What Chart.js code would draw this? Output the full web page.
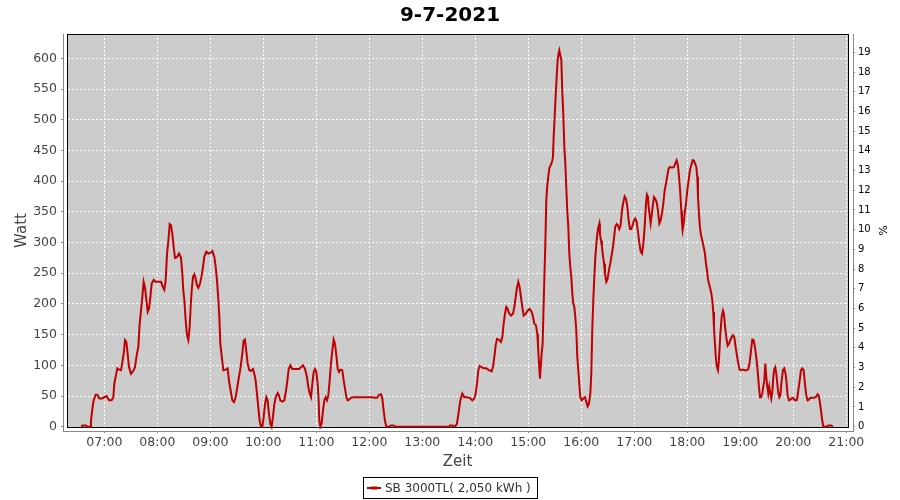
<!DOCTYPE html>
<html><head><meta charset="utf-8">
<script src="https://cdn.jsdelivr.net/npm/chart.js@4.4.1/dist/chart.umd.min.js"></script>
<style>html,body{margin:0;padding:0;background:#fff}#wrap{width:900px;height:500px;position:relative}</style>
</head><body><div id="wrap"><canvas id="c"></canvas></div>
<script>
const chartTitle = '9-7-2021';
const seriesLabel = 'SB 3000TL( 2,050 kWh )';
const xAxisTitle = 'Zeit';
const yAxisTitle = 'Watt';
const y2AxisTitle = '%';
// hour ticks in minutes after midnight
const hourTicks = [420,480,540,600,660,720,780,840,900,960,1020,1080,1140,1200,1260];
const wattTicks = [0,50,100,150,200,250,300,350,400,450,500,550,600];
const percentTicks = [0,1,2,3,4,5,6,7,8,9,10,11,12,13,14,15,16,17,18,19];
// sample times, minutes after midnight
const times = [
393.6,396.2,398.9,401.1,403.8,404.9,406.4,407.9,410.2,412.1,414.3,417.0,420.0,422.6,425.3,428.3,430.2,431.3,432.8,434.7,
437.0,438.9,440.4,441.9,443.4,444.9,446.4,447.9,450.2,452.8,454.7,456.6,458.5,460.0,461.5,463.0,464.5,466.0,467.6,469.1,
470.6,472.1,473.6,475.9,478.1,481.1,484.2,486.4,487.9,489.4,491.0,492.5,494.0,495.5,497.0,498.5,500.0,502.3,504.5,506.8,
508.3,509.4,510.6,512.1,513.6,515.1,516.6,517.7,518.9,520.4,521.9,523.4,524.9,526.4,528.3,530.2,531.7,533.2,535.5,537.7,
540.0,542.3,544.5,546.1,547.6,549.1,550.2,551.3,552.8,554.7,
557.4,559.6,561.1,563.0,564.9,566.8,568.7,570.6,572.4,574.3,576.2,577.7,579.2,580.8,582.3,584.1,586.0,588.3,589.8,591.3,
592.8,594.3,595.8,597.4,598.9,600.4,601.9,603.4,604.9,606.4,607.9,609.4,610.9,612.5,614.0,616.2,617.7,619.2,621.5,623.8,
625.7,627.2,628.7,630.6,632.8,635.1,637.7,640.4,642.6,644.9,647.2,649.4,650.9,652.5,654.0,655.5,657.0,658.5,660.0,661.5,
662.6,663.4,664.5,666.0,667.6,669.1,670.6,672.1,673.6,675.1,676.6,678.1,679.6,681.1,682.7,684.2,685.7,687.2,689.4,691.0,
692.5,694.0,695.5,697.0,699.3,701.9,707.6,715.1,722.7,726.4,728.7,731.0,
733.2,734.7,736.2,737.7,739.2,742.3,744.5,747.5,749.8,810.2,811.3,814.0,817.0,819.2,821.5,823.0,825.3,827.6,830.6,833.6,
836.6,838.9,840.4,841.9,843.4,844.9,847.2,849.4,852.5,855.5,858.5,860.0,861.5,863.0,864.5,866.8,869.1,870.6,872.1,873.6,
875.1,876.6,878.1,880.4,882.7,884.2,885.7,887.2,888.7,890.2,891.7,893.2,894.7,897.0,899.3,901.5,903.8,905.3,906.8,
908.7,910.2,910.9,911.7,912.4,913.2,914.0,915.1,916.2,917.0,918.1,919.2,920.4,921.5,922.6,923.8,925.3,926.8,927.9,928.7,
929.8,930.9,932.1,933.2,934.3,935.1,936.2,937.4,938.5,939.6,940.8,941.9,943.0,944.1,945.3,946.4,947.5,948.7,949.8,950.9,
952.1,953.2,954.3,955.5,956.6,957.7,958.9,960.4,962.3,964.2,965.7,967.2,968.7,970.2,971.3,972.5,973.6,974.7,975.9,977.0,
978.1,979.2,980.4,981.1,982.3,983.4,984.5,985.7,986.8,988.3,989.8,991.3,992.8,994.3,995.9,997.4,998.5,1000.0,1001.5,1003.0,
1004.5,1006.0,1007.6,1009.1,1010.6,1012.1,1013.6,1015.1,1016.6,1018.1,1019.6,1021.1,1022.6,1024.2,1025.7,1027.2,1028.7,1030.2,1031.7,1033.2,
1034.3,1035.5,1036.2,1037.4,1038.5,1039.6,1040.8,1042.3,1043.8,1045.3,1046.8,1048.3,1049.8,1051.3,1052.8,1054.4,1055.9,1057.4,1058.9,1060.4,
1061.9,1063.4,1064.9,1066.4,1067.9,1069.4,1071.0,1072.1,1073.2,1074.0,1074.7,1075.9,1077.0,1078.5,1080.0,1081.5,1083.0,1084.5,1086.1,1087.6,
1088.7,1090.2,1091.3,1092.1,1093.2,1094.3,1095.5,1097.0,1098.5,1100.0,1101.1,1102.3,1103.4,1104.5,1106.0,1107.2,1108.3,1109.4,1110.2,1111.3,
1112.4,1113.6,1114.7,1115.8,1117.4,1118.9,1120.4,1121.5,1122.6,1124.1,1125.7,1127.2,1128.7,1130.2,1131.7,1133.2,1134.7,1136.2,1137.7,1139.2,
1140.8,1143.0,1144.5,1146.0,1147.5,1149.1,1150.6,1152.1,1153.6,1155.1,1156.6,1158.1,1159.6,1161.1,1162.3,1163.4,1164.9,1166.0,1167.2,1168.3,
1169.4,1170.6,1171.7,1172.8,1174.0,1175.1,1176.2,1177.4,1178.5,1179.6,1180.8,1181.9,1183.0,1184.2,1185.3,1186.8,1188.3,1189.8,1191.3,1192.5,
1193.6,1195.1,1196.6,1198.1,1199.6,1201.1,1202.6,1204.2,1205.7,1207.2,1208.7,1210.2,1211.7,1213.2,1214.7,1216.2,1217.7,1219.3,1221.5,1223.8,
1226.0,1227.6,1228.7,1229.8,1231.3,1232.8,1234.0,1237.4,1239.6,1242.7,1244.9
];
const watts = [
1,2,2,0,0,10,29,43,52,52,46,46,48,50,43,43,48,70,81,95,
93,92,105,119,141,138,119,97,86,91,97,116,130,168,189,211,236,227,206,187,
192,211,233,239,236,236,236,227,223,238,282,303,330,328,314,293,275,276,282,275,
249,222,206,173,149,141,162,195,222,244,248,241,230,226,233,246,260,277,285,282,
283,286,277,260,238,206,179,135,116,92,
93,95,75,59,43,40,48,65,81,97,119,140,142,122,103,92,91,94,86,75,
54,32,10,0,0,16,37,48,43,21,5,0,16,37,48,55,51,43,41,43,
59,75,94,100,94,94,94,94,97,100,94,81,65,54,48,70,89,94,89,70,
43,10,0,5,27,43,48,43,51,75,103,124,142,135,116,94,89,93,92,75,
62,48,43,44,47,48,48,48,48,47,47,52,
53,46,27,10,0,0,2,2,0,0,2,2,0,5,27,43,54,48,48,47,
43,46,54,70,92,99,97,95,95,92,90,97,113,132,143,142,138,146,168,184,
195,192,185,181,184,195,211,227,236,227,211,195,181,184,189,192,187,179,168,
165,151,135,113,97,78,97,119,135,179,238,293,369,393,407,421,426,431,439,472,
504,537,569,597,608,613,605,597,543,510,455,429,390,352,325,282,260,244,217,200,
195,179,157,113,92,70,48,43,46,48,40,33,38,54,86,162,206,244,276,297,
314,325,331,314,303,293,279,266,249,236,241,255,266,279,293,312,326,330,328,322,
328,352,366,375,371,358,336,322,322,328,336,339,334,317,300,285,282,297,325,363,
378,374,358,344,331,344,358,374,371,366,352,331,336,347,363,385,396,409,421,423,
422,422,423,429,434,426,401,379,352,331,320,331,347,363,385,401,418,426,434,433,
433,423,407,374,347,325,312,303,293,282,266,255,241,233,225,217,206,187,162,135,
111,97,92,108,151,179,189,184,165,146,132,135,141,146,149,146,130,116,103,93,
92,93,92,92,92,94,105,124,142,141,130,113,92,65,48,48,54,65,75,103,
81,65,54,65,54,46,56,81,94,97,86,70,56,48,51,75,92,95,86,70,
51,43,44,46,47,44,43,44,59,75,92,95,92,70,51,43,44,47,47,47,
49,53,51,43,27,10,0,0,2,2,0
];

function hhmm(m){ const h=Math.floor(m/60), mm=Math.round(m-h*60); return String(h).padStart(2,'0')+':'+String(mm).padStart(2,'0'); }

const points = times.map((t,i)=>({x:t, y:watts[i]}));

const deco = {
  id:'deco',
  beforeDraw(chart){
    const ctx=chart.ctx, a=chart.chartArea;
    ctx.save();
    ctx.fillStyle='#ffffff'; ctx.fillRect(0,0,chart.width,chart.height);
    ctx.fillStyle='#cccccc';
    ctx.fillRect(a.left+4, a.top, (a.right-5)-(a.left+4), (a.bottom-4)-a.top);
    ctx.restore();
  },
  beforeDatasetsDraw(chart){
    const ctx=chart.ctx, a=chart.chartArea;
    ctx.save();
    ctx.strokeStyle='#000000'; ctx.lineWidth=1;
    ctx.strokeRect(a.left+4.5, a.top+0.5, (a.right-5)-(a.left+4), (a.bottom-4)-a.top);
    ctx.restore();
  },
  afterDraw(chart){
    const ctx=chart.ctx, a=chart.chartArea;
    const plotL=a.left+4, plotR=a.right-5, plotB=a.bottom-4;
    ctx.save();
    // title
    ctx.fillStyle='#000000'; ctx.font='bold 20px "DejaVu Sans"';
    ctx.textAlign='center'; ctx.textBaseline='alphabetic';
    ctx.fillText(chartTitle, 450, 21);
    // axis titles
    ctx.fillStyle='#444444'; ctx.font='15px "DejaVu Sans"';
    ctx.fillText(xAxisTitle, (plotL+plotR)/2, 466);
    ctx.save();
    ctx.translate(26, (a.top+plotB)/2); ctx.rotate(-Math.PI/2);
    ctx.fillText(yAxisTitle, 0, 0);
    ctx.restore();
    ctx.save();
    ctx.fillStyle='#000000'; ctx.font='11px "DejaVu Sans"';
    ctx.translate(879, (a.top+plotB)/2); ctx.rotate(Math.PI/2);
    ctx.textBaseline='alphabetic';
    ctx.fillText(y2AxisTitle, 0, 0);
    ctx.restore();
    // legend
    const bx=363.5, by=477.5, bw=174, bh=21;
    ctx.strokeStyle='#000000'; ctx.lineWidth=1;
    ctx.strokeRect(bx, by, bw, bh);
    ctx.strokeStyle='#c00000'; ctx.lineWidth=2;
    ctx.beginPath(); ctx.moveTo(367, 488); ctx.lineTo(381, 488); ctx.stroke();
    ctx.fillStyle='#c00000'; ctx.fillRect(371, 486.5, 6, 3);
    ctx.fillStyle='#333333'; ctx.font='12px "DejaVu Sans"';
    ctx.textAlign='left'; ctx.textBaseline='middle';
    ctx.fillText(seriesLabel, 385, 488.5);
    ctx.restore();
  }
};

new Chart(document.getElementById('c'), {
  type:'line',
  data:{ datasets:[{
    label: seriesLabel, data: points, yAxisID:'y',
    borderColor:'#c00000', borderWidth:2, pointRadius:0, tension:0, fill:false
  }]},
  options:{
    responsive:true, maintainAspectRatio:false, animation:false,
    layout:{ padding:{left:0,right:0,top:34,bottom:0} },
    plugins:{ legend:{display:false}, title:{display:false}, tooltip:{enabled:false} },
    scales:{
      x:{
        type:'linear', min:373.2, max:1267.6, position:'bottom',
        afterFit(s){ s.height = 69; },
        afterBuildTicks(s){ s.ticks = hourTicks.map(v=>({value:v})); },
        ticks:{ autoSkip:false, maxRotation:0, padding:2, color:'#444444',
          font:{family:'DejaVu Sans', size:12.5}, callback:(v)=>hhmm(v) },
        grid:{ color:'#ffffff', lineWidth:1, tickLength:2, tickColor:'#888888' },
        border:{ display:true, color:'#888888', width:1, dash:[2,2] }
      },
      y:{
        type:'linear', min:-7, max:639.6, position:'left',
        afterFit(s){ s.width = 63; },
        afterBuildTicks(s){ s.ticks = wattTicks.map(v=>({value:v})); },
        ticks:{ padding:4, color:'#444444', font:{family:'DejaVu Sans', size:12.5}, callback:(v)=>String(v) },
        grid:{ color:(c)=> (c.tick && c.tick.value===0) ? 'rgba(0,0,0,0)' : '#ffffff', lineWidth:1, tickLength:2, tickColor:'#888888' },
        border:{ display:true, color:'#888888', width:1, dash:[2,2] }
      },
      y2:{
        type:'linear', min:-0.22, max:19.93, position:'right',
        afterFit(s){ s.width = 47; },
        afterBuildTicks(s){ s.ticks = percentTicks.map(v=>({value:v})); },
        ticks:{ padding:3, color:'#000000', font:{family:'DejaVu Sans', size:10}, callback:(v)=>String(v) },
        grid:{ drawOnChartArea:false, tickLength:2, tickColor:'#888888', color:'#888888' },
        border:{ display:true, color:'#888888', width:1 }
      }
    }
  },
  plugins:[deco]
});
</script></body></html>
